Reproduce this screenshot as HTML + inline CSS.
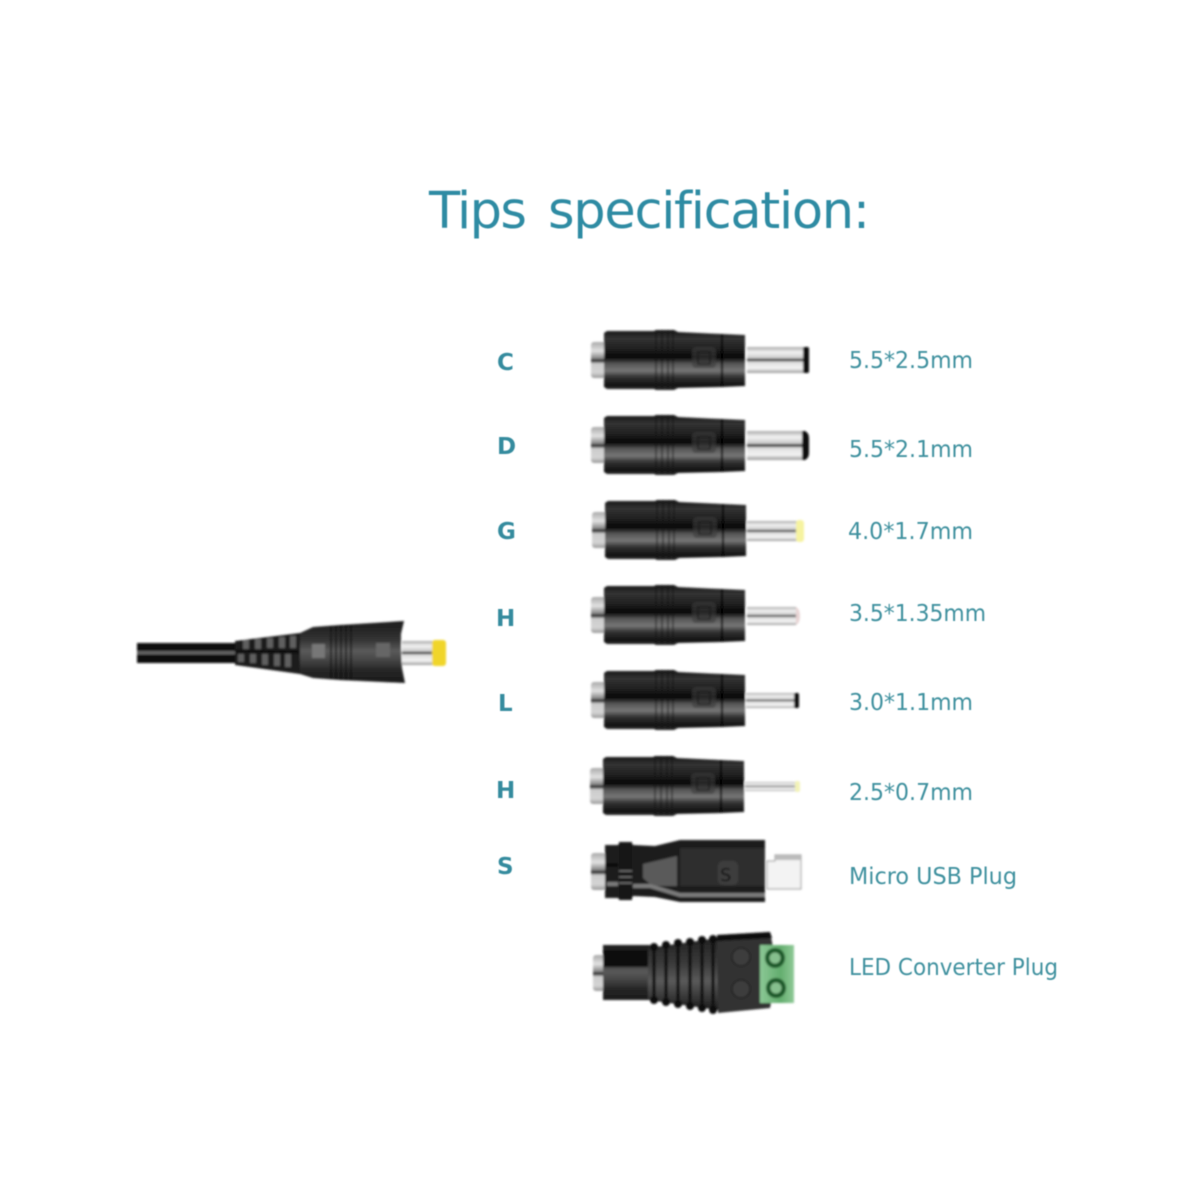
<!DOCTYPE html>
<html>
<head>
<meta charset="utf-8">
<style>
html,body{margin:0;padding:0;background:#fff;width:1200px;height:1200px;overflow:hidden}
svg{display:block}
text{font-family:"DejaVu Sans","Liberation Sans",sans-serif;font-variant-ligatures:none}
.l{font-size:23px;fill:#3f919f;font-weight:400}
.k{font-size:23px;fill:#348b9e;font-weight:700}
</style>
</head>
<body>
<svg width="1200" height="1200" viewBox="0 0 1200 1200" xmlns="http://www.w3.org/2000/svg">
<defs>
<linearGradient id="body" x1="0" y1="0" x2="0" y2="1">
<stop offset="0" stop-color="#161616"/>
<stop offset=".14" stop-color="#333"/>
<stop offset=".3" stop-color="#222"/>
<stop offset=".46" stop-color="#060606"/>
<stop offset=".56" stop-color="#555"/>
<stop offset=".68" stop-color="#767676"/>
<stop offset=".78" stop-color="#333"/>
<stop offset=".92" stop-color="#141414"/>
<stop offset="1" stop-color="#2a2a2a"/>
</linearGradient>
<linearGradient id="head" x1="0" y1="0" x2="0" y2="1">
<stop offset="0" stop-color="#1c1c1c"/>
<stop offset=".3" stop-color="#333"/>
<stop offset=".48" stop-color="#5a5a5a"/>
<stop offset=".6" stop-color="#4a4a4a"/>
<stop offset=".8" stop-color="#262626"/>
<stop offset="1" stop-color="#1a1a1a"/>
</linearGradient>
<linearGradient id="metal" x1="0" y1="0" x2="0" y2="1">
<stop offset="0" stop-color="#aaa"/>
<stop offset=".2" stop-color="#f2f2f2"/>
<stop offset=".42" stop-color="#ccc"/>
<stop offset=".5" stop-color="#222"/>
<stop offset=".58" stop-color="#ddd"/>
<stop offset=".82" stop-color="#f4f4f4"/>
<stop offset="1" stop-color="#999"/>
</linearGradient>
<linearGradient id="stub" x1="0" y1="0" x2="0" y2="1">
<stop offset="0" stop-color="#aaa"/>
<stop offset=".25" stop-color="#e2e2e2"/>
<stop offset=".45" stop-color="#888"/>
<stop offset=".52" stop-color="#222"/>
<stop offset=".6" stop-color="#ccc"/>
<stop offset=".85" stop-color="#d4d4d4"/>
<stop offset="1" stop-color="#999"/>
</linearGradient>
<linearGradient id="grn" x1="0" y1="0" x2="1" y2="0">
<stop offset="0" stop-color="#8cc896"/>
<stop offset=".6" stop-color="#63ad6e"/>
<stop offset="1" stop-color="#8fc997"/>
</linearGradient>
<linearGradient id="rib" x1="0" y1="0" x2="0" y2="1">
<stop offset="0" stop-color="#222"/>
<stop offset=".35" stop-color="#3a3a3a"/>
<stop offset=".6" stop-color="#5a5a5a"/>
<stop offset="1" stop-color="#1c1c1c"/>
</linearGradient>
<filter id="b"><feGaussianBlur stdDeviation="1"/></filter>
<filter id="t"><feGaussianBlur stdDeviation=".5"/></filter>

<g id="barrel">
<rect x="-13" y="-18" width="15" height="36" rx="3" fill="url(#stub)"/>
<path d="M0-27 L3-29 H50 L52-30 H70 L74-28 L118-26 L141-25 V26 L118 27 L74 28 L70 30 H52 L50 29 H3 L0 27Z" fill="url(#body)"/>
<path d="M118-26 V27" stroke="#050505" stroke-width="2" fill="none"/>
<g stroke="#111" stroke-width="1.3" opacity=".7">
<path d="M52-29V29M58-29V29M64-29V29M69-29V29"/>
</g>
<rect x="88" y="-13" width="24" height="21" rx="4" fill="#3c3c3c" opacity=".6"/>
<path d="M94-8h12v12h-12z" fill="none" stroke="#111" stroke-width="1.5" opacity=".6"/>
</g>
</defs>

<rect width="1200" height="1200" fill="#fff"/>

<!-- Title -->
<g filter="url(#t)">
<text x="429" y="228" font-size="51" fill="#2f8ba3" textLength="98" lengthAdjust="spacing">Tips</text>
<text x="548" y="228" font-size="51" fill="#2f8ba3" textLength="322" lengthAdjust="spacing">specification:</text>
</g>

<!-- Row letters -->
<g filter="url(#t)">
<text class="k" x="497" y="370">C</text>
<text class="k" x="497" y="454">D</text>
<text class="k" x="497" y="539">G</text>
<text class="k" x="496" y="626">H</text>
<text class="k" x="498" y="711">L</text>
<text class="k" x="496" y="798">H</text>
<text class="k" x="497" y="874">S</text>

<text class="l" x="849" y="368" textLength="124" lengthAdjust="spacingAndGlyphs">5.5*2.5mm</text>
<text class="l" x="849" y="457" textLength="124" lengthAdjust="spacingAndGlyphs">5.5*2.1mm</text>
<text class="l" x="848" y="539" textLength="125" lengthAdjust="spacingAndGlyphs">4.0*1.7mm</text>
<text class="l" x="849" y="621" textLength="137" lengthAdjust="spacingAndGlyphs">3.5*1.35mm</text>
<text class="l" x="849" y="710" textLength="124" lengthAdjust="spacingAndGlyphs">3.0*1.1mm</text>
<text class="l" x="849" y="800" textLength="124" lengthAdjust="spacingAndGlyphs">2.5*0.7mm</text>
<text class="l" x="849" y="884" textLength="168" lengthAdjust="spacingAndGlyphs">Micro USB Plug</text>
<text class="l" x="849" y="975" textLength="209" lengthAdjust="spacingAndGlyphs">LED Converter Plug</text>
</g>

<g filter="url(#b)">
<!-- Left cable -->
<rect x="137" y="643" width="101" height="20" fill="#111"/>
<rect x="137" y="651" width="101" height="3.5" fill="#606060"/>
<path d="M235 641 L300 633 V674 L235 665Z" fill="#1c1c1c"/>
<g fill="#5e5e5e">
<rect x="243" y="640" width="6" height="9"/><rect x="255" y="639" width="6" height="10"/><rect x="267" y="638" width="6" height="10"/><rect x="279" y="637" width="6" height="11"/><rect x="290" y="636" width="6" height="12"/>
<rect x="238" y="654" width="6" height="8"/><rect x="250" y="654" width="6" height="9"/><rect x="262" y="654" width="6" height="11"/><rect x="274" y="654" width="6" height="12"/><rect x="285" y="654" width="6" height="13"/>
</g>
<path d="M235 651 L300 652" stroke="#0a0a0a" stroke-width="3"/>
<path d="M300 633 L313 627 L340 625 L404 621 L401 634 V650 L402 668 L405 683 L340 680 L313 678 L300 674Z" fill="url(#head)"/>
<g stroke="#0a0a0a" stroke-width="1.6" opacity=".75"><path d="M331 626V679M336 626V679M341 625V680M346 625V680M351 625V680"/></g>
<rect x="312" y="644" width="13" height="14" fill="#777"/>
<rect x="376" y="643" width="14" height="14" fill="#666"/>
<rect x="402" y="641" width="32" height="24" fill="url(#metal)"/>
<rect x="432" y="640" width="14" height="26" rx="3" fill="#f0d52a"/>

<!-- Tips -->
<use href="#barrel" x="604" y="360"/>
<rect x="747" y="347" width="57" height="26" fill="url(#metal)"/>
<rect x="803" y="347" width="6" height="26" rx="1.5" fill="#0c0c0c"/>

<use href="#barrel" x="604" y="445"/>
<rect x="747" y="431" width="56" height="29" fill="url(#metal)"/>
<path d="M802 431 h3 q4 2 4 7 v15 q0 5-4 7 h-3Z" fill="#111"/>

<use href="#barrel" x="605" y="530"/>
<rect x="747" y="521" width="50" height="20" fill="url(#metal)"/>
<rect x="796" y="520" width="8" height="22" rx="3" fill="#f6f3a0"/>

<use href="#barrel" x="604" y="615"/>
<rect x="747" y="607" width="49" height="18" fill="url(#metal)"/>
<path d="M796 607 q4 2 4 9 q0 7-4 9Z" fill="#e8d4d4"/>

<use href="#barrel" x="604" y="700"/>
<rect x="746" y="693" width="49" height="15" fill="url(#metal)"/>
<rect x="794" y="693" width="5" height="15" rx="1.5" fill="#111"/>

<use href="#barrel" x="603" y="786"/>
<rect x="745" y="782" width="52" height="9" fill="url(#metal)"/>
<rect x="795" y="781" width="5" height="11" rx="2" fill="#f3f3b8"/>

<!-- Micro USB -->
<rect x="591" y="853" width="15" height="37" rx="3" fill="url(#stub)"/>
<path d="M605 845 H618 L620 842 H631 L633 845 L655 846 L680 840 H765 V902 H680 L655 897 L633 896 L631 900 H620 L618 898 H605Z" fill="#1e1e1e"/>
<path d="M680 848 H765 V886 H680Z" fill="#2e2e2e"/>
<path d="M643 864 L677 856 V886 H652 L643 878Z" fill="#5a5a5a"/>
<path d="M607 884 H618 M633 886 H650 L680 895 H765" stroke="#7a7a7a" stroke-width="4" fill="none"/>
<rect x="619" y="842" width="13" height="58" fill="#141414"/>
<path d="M619 871 H632 M619 877 H632 M619 883 H632" stroke="#777" stroke-width="1.5"/>
<path d="M605 865 H618" stroke="#050505" stroke-width="3"/>
<rect x="718" y="861" width="20" height="24" rx="5" fill="#3d3d3d"/>
<text x="720" y="881" font-size="18" fill="#0e0e0e">S</text>
<path d="M775 855 H801 V889 H767 V861 H775Z" fill="#f3f3f3" stroke="#aaa" stroke-width="1.2"/>
<rect x="775" y="855" width="26" height="5" fill="#bbb"/>

<!-- LED Converter -->
<rect x="593" y="955" width="12" height="36" rx="3" fill="url(#stub)"/>
<path d="M603 945 H650 V1000 H603Z" fill="url(#head)"/>
<path d="M603 950 H650 V967 H603Z" fill="#0b0b0b"/>
<path d="M648 948 L718 938 V1010 L648 1000Z" fill="url(#rib)"/>
<g fill="#111">
<circle cx="654" cy="947" r="4"/><circle cx="666" cy="945" r="4"/><circle cx="678" cy="943" r="4"/><circle cx="690" cy="942" r="4"/><circle cx="702" cy="940" r="4"/><circle cx="713" cy="939" r="4"/>
<circle cx="654" cy="1000" r="4"/><circle cx="666" cy="1002" r="4"/><circle cx="678" cy="1004" r="4"/><circle cx="690" cy="1006" r="4"/><circle cx="702" cy="1008" r="4"/><circle cx="713" cy="1010" r="4"/>
</g>
<g stroke="#0c0c0c" stroke-width="3.2" fill="none">
<path d="M654 947V1000M666 945V1002M678 943V1004M690 942V1006M702 940V1008M713 939V1010"/>
</g>
<path d="M717 935 L770 932 L773 947 H760 V1003 H771 L770 1008 L718 1013Z" fill="#333"/>
<path d="M717 935 L770 932 L772 938 L717 941Z" fill="#0c0c0c"/>
<circle cx="741" cy="957" r="9" fill="#3e3e3e" stroke="#202020" stroke-width="1.5"/>
<circle cx="741" cy="989" r="9" fill="#3e3e3e" stroke="#202020" stroke-width="1.5"/>
<rect x="760" y="945" width="34" height="58" fill="url(#grn)"/>
<circle cx="775" cy="958" r="10" fill="#1d5a29"/>
<circle cx="775" cy="958" r="5.5" fill="#86bf8e"/>
<circle cx="776" cy="988" r="10" fill="#1d5a29"/>
<circle cx="776" cy="988" r="5.5" fill="#86bf8e"/>
</g>
</svg>
</body>
</html>
